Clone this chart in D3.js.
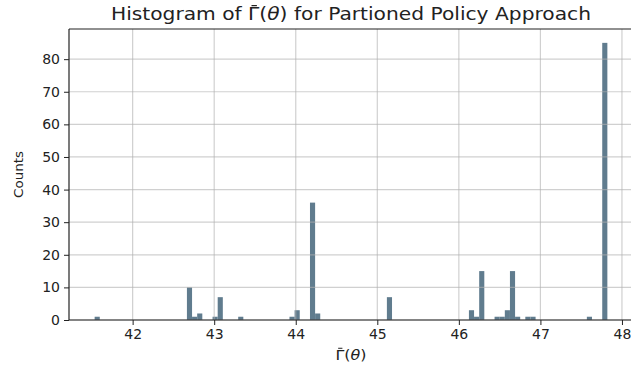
<!DOCTYPE html>
<html>
<head>
<meta charset="utf-8">
<script src="https://cdn.jsdelivr.net/npm/d3@7"></script>
<style>
  html, body { margin: 0; padding: 0; background: #fff; }
  svg { display: block; font-family: "DejaVu Sans", sans-serif; }
</style>
</head>
<body>
<svg id="chart" width="631" height="373"></svg>
<script>
// Histogram definition
const histStart = 41.534;
const histEnd = 47.821;
const binCount = 100;
// Non-empty bins: index of the bin and its count
const binIndex = [0, 18, 19, 20, 23, 24, 28, 38, 39, 42, 43, 57, 73, 74, 75, 78, 79, 80, 81, 82, 84, 85, 96, 99];
const binCounts = [1, 10, 1, 2, 1, 7, 1, 1, 3, 36, 2, 7, 3, 1, 15, 1, 1, 3, 15, 1, 1, 1, 1, 85];
const xTicks = [42, 43, 44, 45, 46, 47, 48];
const yTicks = [0, 10, 20, 30, 40, 50, 60, 70, 80];

const W = 631, H = 373;
const m = { left: 69, top: 29, bottom: 320, right: 633 };
const span = histEnd - histStart;
const bw = span / binCount;
const bins = binIndex.map((b, i) => ({ x0: histStart + b * bw, x1: histStart + (b + 1) * bw, n: binCounts[i] }));

const x = d3.scaleLinear().domain([histStart - 0.05 * span, histEnd + 0.05 * span]).range([m.left, m.right]);
const yMax = d3.max(binCounts) * 1.05;
const y = d3.scaleLinear().domain([0, yMax]).range([m.bottom, m.top]);

const svg = d3.select("#chart");

// bars
svg.append("g").selectAll("rect").data(bins).join("rect")
  .attr("x", d => x(d.x0))
  .attr("width", d => x(d.x1) - x(d.x0))
  .attr("y", d => y(d.n))
  .attr("height", d => y(0) - y(d.n))
  .attr("fill", "#607c8e");

// grid (drawn above bars, like matplotlib)
const grid = svg.append("g").attr("stroke", "#b0b0b0").attr("stroke-opacity", 0.6).attr("stroke-width", 1.2);
xTicks.forEach(t => grid.append("line").attr("x1", x(t)).attr("x2", x(t)).attr("y1", m.top).attr("y2", m.bottom));
yTicks.forEach(t => grid.append("line").attr("x1", m.left).attr("x2", m.right).attr("y1", y(t)).attr("y2", y(t)));

// axes
const xAxis = d3.axisBottom(x).tickValues(xTicks).tickSize(5).tickPadding(4).tickFormat(d3.format("d"));
const yAxis = d3.axisLeft(y).tickValues(yTicks).tickSize(5).tickPadding(4).tickFormat(d3.format("d"));

const gx = svg.append("g").attr("transform", `translate(0,${m.bottom})`).call(xAxis);
const gy = svg.append("g").attr("transform", `translate(${m.left},0)`).call(yAxis);
[gx, gy].forEach(g => {
  g.select(".domain").remove();
  g.selectAll("line").attr("stroke", "#222").attr("stroke-width", 1);
  g.selectAll("text").attr("fill", "#222").style("font-size", "14px").style("font-family", "DejaVu Sans, sans-serif");
});

// spines
const sp = svg.append("g").attr("stroke", "#222").attr("stroke-width", 1.2).attr("fill", "none");
sp.append("line").attr("x1", m.left).attr("x2", m.left).attr("y1", m.top).attr("y2", m.bottom);
sp.append("line").attr("x1", m.left).attr("x2", m.right).attr("y1", m.bottom).attr("y2", m.bottom);
sp.append("line").attr("x1", m.left).attr("x2", m.right).attr("y1", m.top).attr("y2", m.top);
sp.append("line").attr("x1", m.right).attr("x2", m.right).attr("y1", m.top).attr("y2", m.bottom);

const cx = (m.left + m.right) / 2;

// helper: Γ̄(θ) label pieces, with a bar drawn over the Γ glyph
function gammaBar(textSel, prefix, suffix) {
  textSel.append("tspan").text(prefix + "\u0393(");
  textSel.append("tspan").attr("font-style", "italic").text("\u03b8");
  textSel.append("tspan").text(")" + suffix);
  const node = textSel.node();
  const ext = node.getExtentOfChar(prefix.length);
  const fs = parseFloat(textSel.style("font-size"));
  const yb = ext.y + ext.height * 0.08;
  svg.append("line")
    .attr("x1", ext.x + ext.width * 0.3).attr("x2", ext.x + ext.width * 0.78)
    .attr("y1", yb).attr("y2", yb)
    .attr("stroke", "#222").attr("stroke-width", Math.max(1, fs * 0.07));
}

// title
const title = svg.append("text").attr("x", cx).attr("y", 20).attr("text-anchor", "middle")
  .attr("fill", "#222").style("font-size", "17.5px")
  .attr("textLength", 480).attr("lengthAdjust", "spacingAndGlyphs");
gammaBar(title, "Histogram of ", " for Partioned Policy Approach");

// x label
const xl = svg.append("text").attr("x", cx).attr("y", 360).attr("text-anchor", "middle")
  .attr("fill", "#222").style("font-size", "14px")
  .attr("textLength", 31).attr("lengthAdjust", "spacingAndGlyphs");
gammaBar(xl, "", "");

// y label
svg.append("text").attr("transform", `translate(23,${(m.top + m.bottom) / 2}) rotate(-90)`)
  .attr("text-anchor", "middle").attr("fill", "#222").style("font-size", "13px")
  .attr("textLength", 47).attr("lengthAdjust", "spacingAndGlyphs").text("Counts");
</script>
</body>
</html>
